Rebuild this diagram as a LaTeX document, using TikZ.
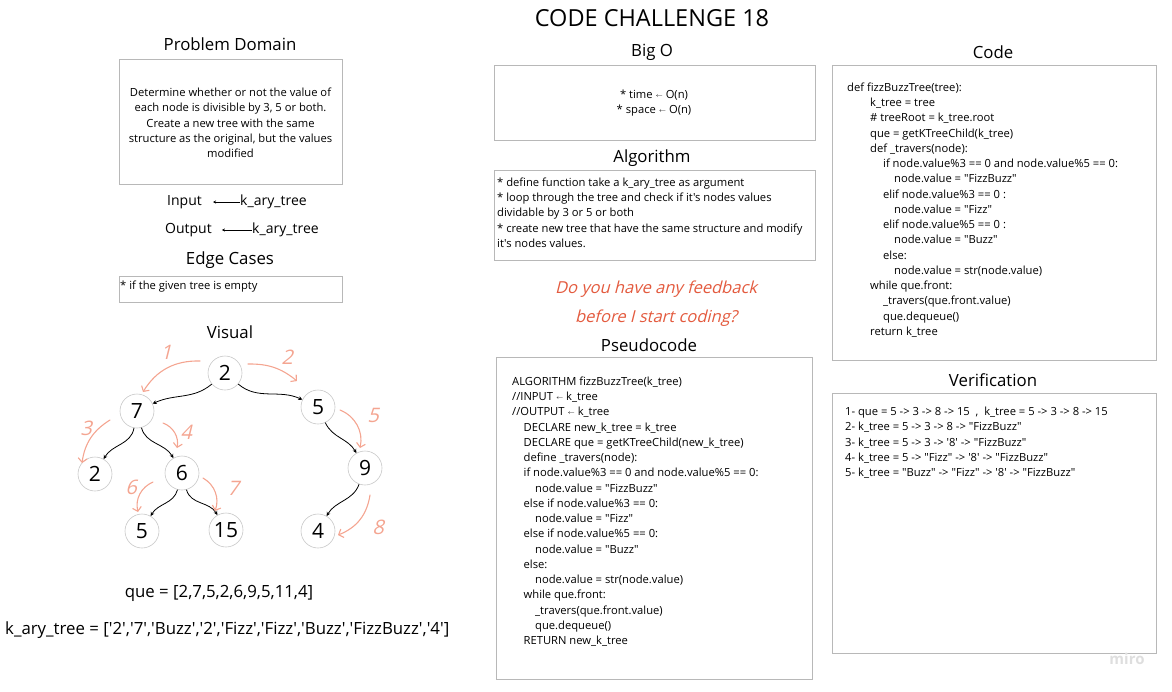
\documentclass[tikz,border=0pt]{standalone}
\usepackage{fontspec}
\setmainfont{Open Sans}[Ligatures=TeXOff]
\newfontfamily\handfont{Open Sans}[FakeSlant=0.25,Ligatures=TeXOff]
\usetikzlibrary{arrows.meta,positioning}
\definecolor{framegray}{HTML}{B8B8B8}
\definecolor{sketchred}{HTML}{F4A591}
\definecolor{notered}{HTML}{E35A3E}
\newcommand{\lto}{\raisebox{1pt}{$\scriptscriptstyle\leftarrow$}}
\newcommand{\ind}[1]{\hspace*{#1pt}}

\begin{document}
\begin{tikzpicture}[x=1pt,y=1pt,>=Stealth,
  frame/.style={draw=framegray,line width=0.8pt},
  heading/.style={font=\fontsize{16.8}{19}\selectfont},
  txt/.style={font=\fontsize{11.2}{15.25}\selectfont,align=left,inner sep=0pt,anchor=north west},
  io/.style={font=\fontsize{14}{16}\selectfont,inner sep=0pt,anchor=west,text height=10pt,text depth=3pt},
  tnode/.style={circle,draw=black!22,line width=0.6pt,minimum size=34pt,inner sep=0pt,font=\fontsize{21}{21}\selectfont},
  treeedge/.style={->,>={Stealth[length=4pt,width=4pt]},line width=0.8pt},
  sketch/.style={sketchred,line width=1.1pt,line cap=round,-{Straight Barb[length=4pt,width=9pt]}},
  sketchnum/.style={text=sketchred,font=\handfont\fontsize{20}{20}\selectfont}]

\useasboundingbox (0,0) rectangle (1172,-691);

\node[font=\fontsize{23.5}{26}\selectfont] (title) at (652,-18) {CODE CHALLENGE 18};

%%%%%%%%%%%%%%%%%%%%%%%%%%%%%%%%%%%%%%

\node[heading] (pdhead) at (230,-44) {Problem Domain};
\draw [frame] (119,-59) rectangle (342,-184);
\node[txt,align=center,anchor=center] (pdtext) at (230.5,-123) {Determine whether or not the value of\\each node is divisible by 3, 5 or both.\\Create a new tree with the same\\structure as the original, but the values\\modified};

\node[io] (inlbl) at (167,-202) {Input};
\node[io] (inval) at (240,-202) {k\_ary\_tree};
\draw[->,>={Stealth[length=3pt,width=3pt]},line width=0.6pt,shorten >=11pt] (inval.west) -- (inlbl.east);

\node[io] (outlbl) at (165,-230) {Output};
\node[io] (outval) at (252,-230) {k\_ary\_tree};
\draw[->,>={Stealth[length=3pt,width=3pt]},line width=0.6pt,shorten >=10pt] (outval.west) -- (outlbl.east);

\node[heading] (ehead) at (230,-260) {Edge Cases};
\draw [frame] (119,-276) rectangle (342,-302);
\node[txt] (etext) at (120,-280.5) {* if the given tree is empty};

%%%%%%%%%%%%%%%%%%%%%%%%%%%%%%%%%%%%%%

\node[heading] (vhead) at (230,-332) {Visual};

\node[tnode] (root) at (225,-373) {2};
\node[tnode] (n7) at (137,-411) {7};
\node[tnode] (n5) at (318,-407) {5};
\node[tnode] (n2) at (95,-474) {2};
\node[tnode] (n6) at (182,-473) {6};
\node[tnode] (n9) at (365,-468) {9};
\node[tnode] (n5b) at (142,-531) {5};
\node[tnode] (n15) at (226,-530) {15};
\node[tnode] (n4) at (318,-531) {4};

\draw[treeedge] (root) to[out=-140,in=25] (n7);
\draw[treeedge] (root) to[out=-40,in=155] (n5);
\draw[treeedge] (n7) to[out=-100,in=60] (n2);
\draw[treeedge] (n7) to[out=-75,in=120] (n6);
\draw[treeedge] (n5) to[out=-65,in=120] (n9);
\draw[treeedge] (n6) to[out=-105,in=60] (n5b);
\draw[treeedge] (n6) to[out=-75,in=120] (n15);
\draw[treeedge] (n9) to[out=-110,in=60] (n4);

% traversal order
\draw[sketch] (200,-361) to[bend right=30] (143,-392);
\draw[sketch] (248,-364) to[bend left=20] (297,-381);
\draw[sketch] (110,-420) to[bend right=25] (82,-463);
\draw[sketch] (163,-423) to[bend left=40] (177,-448);
\draw[sketch] (340,-410) to[bend left=40] (360,-448);
\draw[sketch] (153,-482) to[bend right=40] (138,-512);
\draw[sketch] (203,-478) to[bend left=40] (215,-511);
\draw[sketch] (370,-495) to[bend left=30] (338,-535);

\node[sketchnum] (s1) at (166,-352) {1};
\node[sketchnum] (s2) at (287,-357) {2};
\node[sketchnum] (s3) at (86,-428) {3};
\node[sketchnum] (s4) at (186,-432) {4};
\node[sketchnum] (s5) at (373,-415) {5};
\node[sketchnum] (s6) at (131,-487) {6};
\node[sketchnum] (s7) at (233,-488) {7};
\node[sketchnum] (s8) at (378,-527) {8};

\node[font=\fontsize{16.8}{18}\selectfont] (quelist) at (219,-593) {que = [2,7,5,2,6,9,5,11,4]};
\node[font=\fontsize{16.8}{18}\selectfont,anchor=west,inner sep=0pt] (karylist) at (5,-630) {k\_ary\_tree = ['2','7','Buzz','2','Fizz','Fizz','Buzz','FizzBuzz','4']};

%%%%%%%%%%%%%%%%%%%%%%%%%%%%%%%%%%%%%%

\node[heading] (bohead) at (652,-52) {Big O};
\draw [frame] (494,-65) rectangle (815,-140);
\node[txt,align=center,anchor=center] (botext) at (654,-103) {* time \lto{} O(n)\\* space \lto{} O(n)};

\node[heading] (alhead) at (652,-158) {Algorithm};
\draw [frame] (494,-170) rectangle (815,-260);
\node[txt] (altext) at (497,-177.5) {* define function take a k\_ary\_tree as argument\\* loop through the tree and check if it's nodes values\\dividable by 3 or 5 or both\\* create new tree that have the same structure and modify\\it's nodes values.};

\node[text=notered,font=\handfont\fontsize{16.5}{29}\selectfont,align=center] (note) at (656,-303.5) {Do you have any feedback\\before I start coding?};

\node[heading] (pshead) at (649,-345) {Pseudocode};
\draw [frame] (496,-357) rectangle (812,-679);
\node[txt] (pstext) at (512,-376.5) {ALGORITHM fizzBuzzTree(k\_tree)\\
//INPUT \lto{} k\_tree\\
//OUTPUT \lto{} k\_tree\\
\ind{11.5}DECLARE new\_k\_tree = k\_tree\\
\ind{11.5}DECLARE que = getKTreeChild(new\_k\_tree)\\
\ind{11.5}define \_travers(node):\\
\ind{11.5}if node.value\%3 == 0 and node.value\%5 == 0:\\
\ind{23}node.value = "FizzBuzz"\\
\ind{11.5}else if node.value\%3 == 0:\\
\ind{23}node.value = "Fizz"\\
\ind{11.5}else if node.value\%5 == 0:\\
\ind{23}node.value = "Buzz"\\
\ind{11.5}else:\\
\ind{23}node.value = str(node.value)\\
\ind{11.5}while que.front:\\
\ind{23}\_travers(que.front.value)\\
\ind{23}que.dequeue()\\
\ind{11.5}RETURN new\_k\_tree};

%%%%%%%%%%%%%%%%%%%%%%%%%%%%%%%%%%%%%%

\node[heading] (cdhead) at (993,-52) {Code};
\draw [frame] (832,-65) rectangle (1156,-360);
\node[txt] (cdtext) at (847,-82.5) {def fizzBuzzTree(tree):\\
\ind{23}k\_tree = tree\\
\ind{23}\# treeRoot = k\_tree.root\\
\ind{23}que = getKTreeChild(k\_tree)\\
\ind{23}def \_travers(node):\\
\ind{36}if node.value\%3 == 0 and node.value\%5 == 0:\\
\ind{47}node.value = "FizzBuzz"\\
\ind{36}elif node.value\%3 == 0 :\\
\ind{47}node.value = "Fizz"\\
\ind{36}elif node.value\%5 == 0 :\\
\ind{47}node.value = "Buzz"\\
\ind{36}else:\\
\ind{47}node.value = str(node.value)\\
\ind{23}while que.front:\\
\ind{36}\_travers(que.front.value)\\
\ind{36}que.dequeue()\\
\ind{23}return k\_tree};

\node[heading] (vfhead) at (993,-380) {Verification};
\draw [frame] (832,-393) rectangle (1156,-653);
\node[txt] (vftext) at (845,-407) {1- que = 5 -> 3 -> 8 -> 15 \ , \ k\_tree = 5 -> 3 -> 8 -> 15\\
2- k\_tree = 5 -> 3 -> 8 -> "FizzBuzz"\\
3- k\_tree = 5 -> 3 -> '8' -> "FizzBuzz"\\
4- k\_tree = 5 -> "Fizz" -> '8' -> "FizzBuzz"\\
5- k\_tree = "Buzz" -> "Fizz" -> '8' -> "FizzBuzz"};

\node[font=\fontsize{15}{15}\selectfont\bfseries,text=black!13] (miro) at (1127,-659) {miro};

\end{tikzpicture}
\end{document}
